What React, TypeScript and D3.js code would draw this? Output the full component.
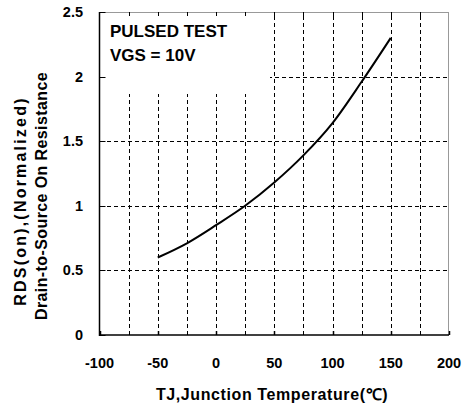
import React from "react";
import * as d3 from "d3";

const xTicks = [-100, -50, 0, 50, 100, 150, 200];
const yTicks = [0, 0.5, 1, 1.5, 2, 2.5];
const yTickLabels = ["0", "0.5", "1", "1.5", "2", "2.5"];
const xGrid = [-75, -50, -25, 0, 25, 50, 75, 100, 125, 150, 175];
const yGrid = [0.5, 1, 1.5, 2];
const tempC = [-50, -25, 0, 25, 50, 75, 100, 125, 150];
const rdsNorm = [0.6, 0.71, 0.85, 1.0, 1.18, 1.39, 1.64, 1.96, 2.3];
const noteLines = ["PULSED TEST", "VGS = 10V"];
const yTitleLines = ["RDS(on),(Normalized)", "Drain-to-Source On Resistance"];
const xTitle = "TJ,Junction Temperature(\u2103)";

const W = 462, H = 410;
const L = 99.5, R = 449, T = 12, B = 335;
const FONT = "'Liberation Sans', Arial, sans-serif";

export default function App() {
  const x = d3.scaleLinear().domain([-100, 200]).range([L, R]);
  const y = d3.scaleLinear().domain([0, 2.5]).range([B, T]);
  const line = d3
    .line<number>()
    .x((_, i) => x(tempC[i]))
    .y((d) => y(d))
    .curve(d3.curveMonotoneX);
  const boxR = 270, boxB = 94;
  return (
    <svg width={W} height={H} style={{ position: "absolute", left: 0, top: 0, background: "#fff" }}>
      <rect x={0} y={0} width={W} height={H} fill="#fff" />
      {/* grid */}
      <g stroke="#000" strokeWidth={1} strokeDasharray="4,3" shapeRendering="crispEdges">
        {xGrid.map((v) => (
          <line key={"gx" + v} x1={Math.round(x(v)) + 0.5} x2={Math.round(x(v)) + 0.5} y1={B} y2={T} />
        ))}
        {yGrid.map((v) => (
          <line key={"gy" + v} x1={L} x2={R} y1={Math.round(y(v)) + 0.5} y2={Math.round(y(v)) + 0.5} />
        ))}
      </g>
      {/* white box behind annotation */}
      <rect x={L + 1} y={T + 1} width={boxR - L - 1} height={boxB - T - 1} fill="#fff" />
      {/* frame */}
      <line x1={L} x2={R} y1={T + 0.5} y2={T + 0.5} stroke="#999" strokeWidth={1} />
      <line x1={R - 0.5} x2={R - 0.5} y1={T} y2={B} stroke="#999" strokeWidth={1} />
      <line x1={L} x2={L} y1={T} y2={B + 1} stroke="#000" strokeWidth={1.5} />
      <line x1={L} x2={R} y1={B} y2={B} stroke="#000" strokeWidth={1.5} />
      {/* ticks */}
      <g stroke="#000" strokeWidth={1}>
        {xGrid.map((v) => (
          <line key={"tt" + v} x1={Math.round(x(v)) + 0.5} x2={Math.round(x(v)) + 0.5} y1={T} y2={T + 4} />
        ))}
        {xTicks.map((v) => (
          <line key={"tb" + v} x1={Math.round(x(v)) + 0.5} x2={Math.round(x(v)) + 0.5} y1={B} y2={B - 4} strokeWidth={1.5} />
        ))}
        {yTicks.map((v) => (
          <line key={"tl" + v} x1={L} x2={L + 6} y1={Math.round(y(v)) + 0.5} y2={Math.round(y(v)) + 0.5} />
        ))}
      </g>
      {/* curve */}
      <path d={line(rdsNorm) || ""} fill="none" stroke="#000" strokeWidth={2} />
      {/* annotation */}
      <g fontFamily={FONT} fontWeight="bold" fontSize={17} fill="#000">
        <text x={110} y={37}>{noteLines[0]}</text>
        <text x={110} y={61}>{noteLines[1]}</text>
      </g>
      {/* tick labels */}
      <g fontFamily={FONT} fontWeight="bold" fontSize={14.5} fill="#000">
        {yTicks.map((v, i) => (
          <text key={"yl" + v} x={83} y={y(v) + 5} textAnchor="end">{yTickLabels[i]}</text>
        ))}
        {xTicks.map((v) => (
          <text key={"xl" + v} x={x(v)} y={368} textAnchor="middle">{v}</text>
        ))}
      </g>
      {/* titles */}
      <g fontFamily={FONT} fontWeight="bold" fontSize={16} fill="#000">
        <text x={272} y={400} textAnchor="middle" letterSpacing={0.6}>{xTitle}</text>
        <text transform="translate(26,201) rotate(-90)" textAnchor="middle" letterSpacing={2.2}>{yTitleLines[0]}</text>
        <text transform="translate(47,196) rotate(-90)" textAnchor="middle" letterSpacing={0.4}>{yTitleLines[1]}</text>
      </g>
    </svg>
  );
}
